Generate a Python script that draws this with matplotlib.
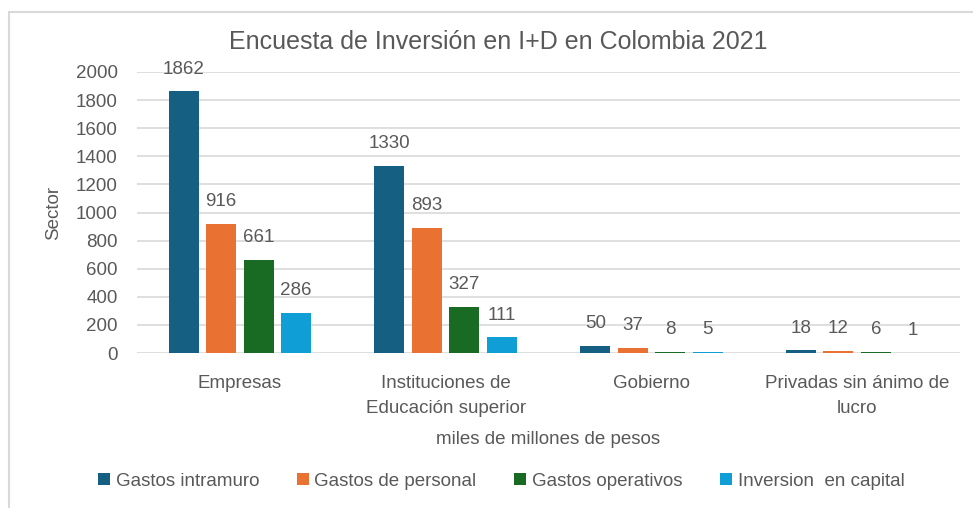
import numpy as np
import matplotlib.pyplot as plt
from matplotlib.patches import Rectangle

plt.rcParams['font.family'] = ['Liberation Sans', 'DejaVu Sans']

sectores = ["Empresas", "Instituciones de\nEducación superior", "Gobierno",
            "Privadas sin ánimo de\nlucro"]
series = ["Gastos intramuro", "Gastos de personal", "Gastos operativos",
          "Inversion  en capital"]
intramuro = [1862, 1330, 50, 18]
personal = [916, 893, 37, 12]
operativos = [661, 327, 8, 6]
capital = [286, 111, 5, 1]
colores = ["#156082", "#E97132", "#196B24", "#0F9ED5"]
gris = "#595959"
fs = 13.5

fig = plt.figure(figsize=(9.73, 5.08), dpi=100)
ax = fig.add_axes([137 / 973, 1 - 353 / 508, 823 / 973, 281 / 508])

# marco del grafico
fig.patches.append(Rectangle((8.5 / 973, -0.05), 1.1, 1.05 - 12.5 / 508,
                             transform=fig.transFigure, fill=False,
                             edgecolor="#D9D9D9", lw=1.5))

x = np.arange(len(sectores))
ancho = 0.146
paso = 0.182
handles = []
for i, vals in enumerate([intramuro, personal, operativos, capital]):
    pos = x + (i - 1.5) * paso
    b = ax.bar(pos, vals, ancho, color=colores[i], label=series[i], zorder=3)
    handles.append(b)
    for xx, v in zip(pos, vals):
        ax.annotate(str(v), (xx, v), xytext=(0, 10), textcoords="offset points",
                    ha="center", va="bottom", fontsize=fs, color=gris)

ax.set_xlim(-0.5, 3.5)
ax.set_ylim(0, 2000)
ax.set_yticks(range(0, 2001, 200))
ax.set_xticks(x)
ax.set_xticklabels(sectores, multialignment="center", linespacing=1.6)
ax.tick_params(axis="both", length=0, labelsize=fs, colors=gris)
ax.tick_params(axis="x", pad=16)
ax.tick_params(axis="y", pad=14)
ax.grid(axis="y", color="#D9D9D9", lw=1.2, zorder=0)
for s in ax.spines.values():
    s.set_visible(False)

ax.set_ylabel("Sector", fontsize=fs, color=gris, labelpad=10)
ax.set_xlabel("miles de millones de pesos", fontsize=fs, color=gris, labelpad=10)
fig.text(498 / 973, 1 - 42 / 508, "Encuesta de Inversión en I+D en Colombia 2021",
         ha="center", va="center", fontsize=18, color=gris)

fig.legend(handles=handles, loc="center", bbox_to_anchor=(501 / 973, 1 - 481 / 508),
           ncol=4, frameon=False, fontsize=fs, labelcolor=gris,
           handlelength=0.65, handleheight=0.65, handletextpad=0.3, columnspacing=2.0)

fig.savefig("out.png", dpi=100)
